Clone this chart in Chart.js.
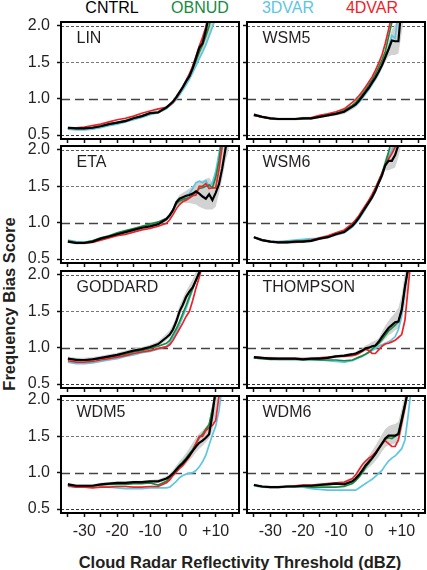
<!DOCTYPE html>
<html><head><meta charset="utf-8">
<script src="https://cdn.jsdelivr.net/npm/chart.js@4.4.1/dist/chart.umd.min.js"></script>
<style>
html,body{margin:0;padding:0;background:#fff;}
#wrap{position:relative;width:427px;height:570px;overflow:hidden;font-family:"Liberation Sans",Arial,Helvetica,sans-serif;color:#231f20;}
canvas{position:absolute;}
.t{position:absolute;white-space:nowrap;transform:translate(-50%,-50%);line-height:1;}
</style></head><body>
<div id="wrap">
  <div class="t" id="leg0" style="left:112px;top:8px;font-size:16px;"></div>
  <div class="t" id="leg1" style="left:200px;top:8px;font-size:16px;"></div>
  <div class="t" id="leg2" style="left:288px;top:8px;font-size:16px;"></div>
  <div class="t" id="leg3" style="left:372px;top:8px;font-size:16px;"></div>
  <div class="t" style="left:8.5px;top:304px;font-size:16.5px;font-weight:bold;transform:translate(-50%,-50%) rotate(-90deg);">Frequency Bias Score</div>
  <div class="t" style="left:240px;top:562px;font-size:16.5px;font-weight:bold;">Cloud Radar Reflectivity Threshold (dBZ)</div>
</div>
<script>
// ---------------- data ----------------
const thresholds = [-35,-32.5,-30,-27.5,-25,-22.5,-20,-17.5,-15,-12.5,-10,-7.5,-5,-4,-3,-2,-1,0,1,2,3,4,5,6,7,8,9,10,11,12,13,14];
const seriesNames = ['CNTRL','OBNUD','3DVAR','4DVAR'];
const panelNames = ['LIN','WSM5','ETA','WSM6','GODDARD','THOMPSON','WDM5','WDM6'];
const yTickValues = [0.5,1.0,1.5,2.0];
const xTickValues = [-35,-30,-25,-20,-15,-10,-5,0,5,10,15];
const xLabelValues = [-30,-20,-10,0,10];

const LIN_CNTRL = [0.60,0.59,0.59,0.60,0.62,0.65,0.67,0.69,0.73,0.76,0.80,0.81,0.88,0.92,0.96,1.02,1.09,1.16,1.24,1.31,1.42,1.56,1.70,1.76,1.94,2.15];
const LIN_OBNUD = [0.59,0.59,0.59,0.60,0.62,0.65,0.67,0.70,0.73,0.76,0.80,0.82,0.87,0.91,0.95,1.01,1.08,1.15,1.23,1.31,1.41,1.52,1.64,1.74,1.86,2.00,2.20];
const LIN_3DVAR = [0.58,0.57,0.57,0.58,0.60,0.63,0.65,0.68,0.71,0.74,0.78,0.81,0.86,0.90,0.94,0.99,1.05,1.12,1.19,1.27,1.36,1.45,1.55,1.64,1.74,1.86,1.98,2.12];
const LIN_4DVAR = [0.59,0.60,0.61,0.63,0.65,0.68,0.71,0.73,0.76,0.80,0.83,0.86,0.88,0.91,0.95,1.01,1.08,1.16,1.25,1.34,1.45,1.58,1.72,1.84,1.98,2.20];
const LIN_LO = [0.58,0.57,0.57,0.58,0.60,0.63,0.65,0.67,0.71,0.74,0.78,0.79,0.85,0.89,0.93,0.98,1.04,1.11,1.18,1.25,1.34,1.44,1.54,1.63,1.74,1.86,1.98,2.12,2.30,2.50,2.50,2.50];
const LIN_HI = [0.62,0.61,0.61,0.62,0.64,0.67,0.69,0.72,0.75,0.78,0.82,0.84,0.90,0.94,0.99,1.05,1.12,1.20,1.28,1.36,1.48,1.62,1.76,1.88,2.05,2.30,2.50,2.50,2.50,2.50,2.50,2.50];

const WSM5_CNTRL = [0.78,0.75,0.73,0.72,0.72,0.72,0.73,0.73,0.75,0.77,0.79,0.82,0.89,0.92,0.97,1.03,1.09,1.15,1.22,1.29,1.37,1.46,1.57,1.68,1.80,1.79,1.79,2.30];
const WSM5_OBNUD = [0.77,0.75,0.73,0.72,0.72,0.72,0.73,0.73,0.76,0.78,0.80,0.84,0.91,0.95,1.00,1.06,1.12,1.19,1.26,1.34,1.43,1.53,1.65,1.85,2.05];
const WSM5_3DVAR = [0.77,0.75,0.73,0.72,0.72,0.72,0.72,0.73,0.75,0.77,0.79,0.82,0.88,0.91,0.95,1.01,1.07,1.13,1.20,1.27,1.35,1.45,1.56,1.69,1.87,1.83,2.20];
const WSM5_4DVAR = [0.77,0.75,0.73,0.72,0.72,0.72,0.73,0.74,0.77,0.79,0.82,0.86,0.95,0.99,1.04,1.10,1.16,1.23,1.30,1.39,1.49,1.60,1.76,1.95,2.15];
const WSM5_LO = [0.76,0.73,0.71,0.70,0.70,0.70,0.71,0.71,0.73,0.75,0.77,0.79,0.85,0.88,0.93,0.98,1.04,1.10,1.17,1.24,1.32,1.41,1.50,1.58,1.60,1.60,1.62,1.90,2.20,2.50,2.50,2.50];
const WSM5_HI = [0.80,0.77,0.75,0.74,0.74,0.74,0.75,0.75,0.77,0.79,0.81,0.84,0.91,0.95,1.00,1.06,1.12,1.19,1.26,1.34,1.43,1.53,1.64,1.78,1.95,2.02,2.10,2.50,2.50,2.50,2.50,2.50];

const ETA_CNTRL = [0.74,0.72,0.72,0.74,0.78,0.81,0.84,0.87,0.90,0.93,0.95,0.98,1.05,1.10,1.17,1.28,1.33,1.35,1.37,1.38,1.40,1.43,1.40,1.36,1.33,1.39,1.31,1.41,1.53,1.75,2.02,2.30];
const ETA_OBNUD = [0.75,0.73,0.73,0.75,0.79,0.82,0.86,0.89,0.92,0.95,0.98,1.01,1.06,1.11,1.18,1.26,1.30,1.32,1.33,1.35,1.38,1.42,1.47,1.48,1.50,1.52,1.48,1.62,1.85,2.20];
const ETA_3DVAR = [0.76,0.74,0.73,0.75,0.78,0.81,0.84,0.87,0.90,0.93,0.96,0.99,1.04,1.09,1.16,1.25,1.30,1.32,1.35,1.40,1.47,1.55,1.57,1.55,1.58,1.50,1.55,1.70,1.95,2.20];
const ETA_4DVAR = [0.74,0.72,0.72,0.73,0.76,0.79,0.82,0.84,0.87,0.90,0.92,0.95,0.99,1.04,1.11,1.19,1.25,1.29,1.31,1.34,1.37,1.38,1.50,1.50,1.54,1.47,1.48,1.48,1.73,2.06];
const ETA_LO = [0.72,0.70,0.70,0.72,0.76,0.79,0.82,0.85,0.88,0.91,0.93,0.96,1.02,1.07,1.14,1.22,1.26,1.27,1.27,1.27,1.26,1.25,1.22,1.20,1.18,1.18,1.18,1.22,1.40,1.60,1.85,2.00];
const ETA_HI = [0.76,0.74,0.74,0.76,0.80,0.83,0.86,0.89,0.92,0.95,0.97,1.00,1.07,1.13,1.21,1.32,1.38,1.41,1.44,1.47,1.50,1.55,1.58,1.58,1.60,1.62,1.55,1.70,2.00,2.30,2.50,2.50];

const WSM6_CNTRL = [0.80,0.76,0.74,0.73,0.73,0.74,0.74,0.75,0.78,0.80,0.84,0.87,0.96,1.01,1.07,1.14,1.21,1.28,1.35,1.44,1.55,1.65,1.79,1.85,1.85,1.93,2.07];
const WSM6_OBNUD = [0.80,0.76,0.74,0.73,0.74,0.74,0.75,0.76,0.78,0.81,0.85,0.88,0.97,1.02,1.08,1.15,1.22,1.30,1.38,1.47,1.57,1.68,1.82,1.97,2.15];
const WSM6_3DVAR = [0.80,0.76,0.74,0.74,0.75,0.76,0.77,0.78,0.78,0.80,0.83,0.86,0.94,0.99,1.05,1.12,1.19,1.27,1.34,1.43,1.54,1.65,1.78,1.90,2.00,2.10];
const WSM6_4DVAR = [0.80,0.76,0.74,0.73,0.73,0.73,0.74,0.76,0.79,0.82,0.86,0.90,0.99,1.04,1.10,1.17,1.24,1.31,1.39,1.48,1.58,1.68,1.78,1.88,1.95,2.04,2.20];
const WSM6_LO = [0.78,0.74,0.72,0.71,0.71,0.72,0.72,0.73,0.76,0.78,0.82,0.85,0.93,0.98,1.04,1.10,1.17,1.24,1.31,1.40,1.50,1.60,1.72,1.72,1.74,1.76,1.90,2.10,2.30,2.50,2.50,2.50];
const WSM6_HI = [0.82,0.78,0.76,0.75,0.75,0.76,0.76,0.77,0.80,0.82,0.86,0.89,0.99,1.04,1.10,1.17,1.24,1.32,1.40,1.49,1.60,1.72,1.88,2.00,2.05,2.10,2.30,2.50,2.50,2.50,2.50,2.50];

const GODDARD_CNTRL = [0.85,0.83,0.83,0.84,0.86,0.88,0.90,0.93,0.96,0.98,1.01,1.05,1.14,1.18,1.25,1.36,1.50,1.59,1.70,1.77,1.83,1.93,2.03,2.20];
const GODDARD_OBNUD = [0.85,0.84,0.83,0.84,0.85,0.87,0.89,0.91,0.94,0.96,0.99,1.02,1.06,1.10,1.18,1.26,1.36,1.47,1.58,1.70,1.82,1.93,2.05];
const GODDARD_3DVAR = [0.80,0.78,0.78,0.79,0.81,0.83,0.85,0.88,0.90,0.93,0.95,0.98,1.02,1.06,1.14,1.22,1.32,1.43,1.54,1.67,1.80,1.92,2.05];
const GODDARD_4DVAR = [0.82,0.80,0.80,0.81,0.83,0.85,0.87,0.89,0.92,0.94,0.96,0.99,1.01,1.04,1.10,1.18,1.26,1.34,1.43,1.50,1.65,1.82,1.97,2.15];
const GODDARD_LO = [0.83,0.81,0.81,0.82,0.84,0.86,0.88,0.91,0.94,0.96,0.99,1.02,1.10,1.14,1.21,1.30,1.43,1.53,1.63,1.71,1.79,1.89,1.99,2.10,2.50,2.50,2.50,2.50,2.50,2.50,2.50,2.50];
const GODDARD_HI = [0.88,0.86,0.86,0.87,0.89,0.91,0.93,0.96,0.99,1.01,1.04,1.09,1.19,1.24,1.32,1.43,1.58,1.68,1.78,1.86,1.94,2.05,2.20,2.50,2.50,2.50,2.50,2.50,2.50,2.50,2.50,2.50];

const THOMPSON_CNTRL = [0.87,0.86,0.85,0.85,0.85,0.85,0.84,0.85,0.85,0.86,0.88,0.89,0.91,0.92,0.94,0.96,0.99,1.00,1.02,1.03,1.08,1.15,1.21,1.27,1.31,1.35,1.36,1.52,1.84,2.10];
const THOMPSON_OBNUD = [0.86,0.85,0.84,0.84,0.84,0.84,0.84,0.84,0.83,0.83,0.83,0.82,0.83,0.85,0.87,0.89,0.91,0.94,0.98,1.02,1.06,1.11,1.17,1.23,1.27,1.31,1.36,1.52,1.84,2.10];
const THOMPSON_3DVAR = [0.86,0.85,0.85,0.84,0.84,0.84,0.83,0.83,0.83,0.82,0.81,0.80,0.82,0.84,0.86,0.88,0.91,0.93,0.96,0.99,1.02,1.04,1.06,1.08,1.11,1.15,1.25,1.45,1.80,2.10];
const THOMPSON_4DVAR = [0.87,0.86,0.86,0.85,0.85,0.85,0.85,0.85,0.86,0.87,0.88,0.88,0.89,0.90,0.92,0.95,0.98,0.96,0.92,0.92,0.97,1.02,1.05,1.06,1.08,1.10,1.14,1.18,1.38,1.84,2.30];
const THOMPSON_LO = [0.85,0.84,0.83,0.83,0.83,0.83,0.82,0.83,0.83,0.84,0.86,0.87,0.89,0.90,0.91,0.93,0.95,0.96,0.97,0.98,1.02,1.07,1.12,1.17,1.20,1.24,1.26,1.36,1.60,1.90,2.30,2.50];
const THOMPSON_HI = [0.89,0.88,0.87,0.87,0.87,0.87,0.86,0.87,0.87,0.88,0.90,0.91,0.93,0.94,0.97,0.99,1.03,1.05,1.08,1.10,1.13,1.22,1.30,1.37,1.43,1.48,1.55,1.72,2.05,2.40,2.50,2.50];

const WDM5_CNTRL = [0.84,0.82,0.82,0.82,0.84,0.85,0.86,0.86,0.87,0.87,0.88,0.88,0.92,0.95,0.99,1.04,1.09,1.13,1.18,1.24,1.30,1.36,1.41,1.44,1.48,1.53,1.80,2.15];
const WDM5_OBNUD = [0.84,0.82,0.81,0.82,0.83,0.84,0.84,0.84,0.85,0.85,0.86,0.83,0.88,0.93,0.99,1.05,1.10,1.15,1.20,1.26,1.32,1.40,1.48,1.53,1.60,1.66,1.88,2.08];
const WDM5_3DVAR = [0.81,0.80,0.80,0.80,0.80,0.80,0.79,0.78,0.78,0.78,0.79,0.79,0.79,0.80,0.84,0.88,0.93,0.96,0.98,0.99,1.00,1.03,1.08,1.15,1.24,1.38,1.52,1.64,1.85,2.20];
const WDM5_4DVAR = [0.82,0.80,0.80,0.79,0.80,0.80,0.81,0.81,0.80,0.80,0.81,0.81,0.86,0.90,0.96,1.01,1.06,1.10,1.16,1.22,1.30,1.40,1.50,1.50,1.58,1.62,1.65,1.72,2.05,2.30];
const WDM5_LO = [0.82,0.80,0.80,0.80,0.82,0.83,0.84,0.84,0.85,0.85,0.86,0.86,0.89,0.92,0.96,1.00,1.04,1.07,1.12,1.17,1.22,1.28,1.33,1.37,1.42,1.47,1.58,1.80,2.10,2.50,2.50,2.50];
const WDM5_HI = [0.86,0.84,0.84,0.84,0.86,0.87,0.88,0.88,0.89,0.89,0.90,0.91,0.95,0.99,1.04,1.10,1.16,1.21,1.27,1.34,1.41,1.48,1.54,1.58,1.63,1.70,1.95,2.30,2.50,2.50,2.50,2.50];

const WDM6_CNTRL = [0.83,0.81,0.80,0.80,0.81,0.81,0.82,0.82,0.83,0.84,0.85,0.84,0.88,0.92,0.97,1.03,1.10,1.15,1.20,1.26,1.33,1.40,1.47,1.51,1.51,1.51,1.53,1.72,1.93,2.15];
const WDM6_OBNUD = [0.83,0.81,0.80,0.80,0.81,0.81,0.81,0.80,0.80,0.80,0.80,0.81,0.85,0.89,0.94,1.00,1.07,1.13,1.19,1.26,1.33,1.40,1.46,1.48,1.47,1.50,1.55,1.75,1.95,2.15];
const WDM6_3DVAR = [0.82,0.80,0.80,0.80,0.80,0.80,0.80,0.78,0.77,0.76,0.76,0.76,0.76,0.76,0.79,0.82,0.85,0.88,0.91,0.95,0.99,1.03,1.10,1.16,1.20,1.23,1.28,1.33,1.45,1.80,2.20];
const WDM6_4DVAR = [0.83,0.81,0.80,0.80,0.81,0.82,0.83,0.83,0.84,0.85,0.86,0.87,0.92,0.97,1.04,1.11,1.16,1.20,1.23,1.28,1.34,1.40,1.44,1.40,1.36,1.36,1.45,1.68,1.90,2.15];
const WDM6_LO = [0.81,0.79,0.78,0.78,0.79,0.79,0.80,0.80,0.81,0.82,0.83,0.82,0.85,0.88,0.92,0.97,1.03,1.07,1.11,1.16,1.22,1.29,1.35,1.38,1.39,1.40,1.42,1.58,1.80,2.05,2.30,2.50];
const WDM6_HI = [0.85,0.83,0.82,0.82,0.83,0.83,0.84,0.84,0.85,0.86,0.87,0.86,0.91,0.96,1.02,1.09,1.16,1.23,1.30,1.37,1.45,1.53,1.60,1.64,1.66,1.67,1.70,1.88,2.08,2.30,2.50,2.50];

// ---------------- presentation ----------------
const panelSeries = [
  [LIN_CNTRL, LIN_OBNUD, LIN_3DVAR, LIN_4DVAR, LIN_LO, LIN_HI],
  [WSM5_CNTRL, WSM5_OBNUD, WSM5_3DVAR, WSM5_4DVAR, WSM5_LO, WSM5_HI],
  [ETA_CNTRL, ETA_OBNUD, ETA_3DVAR, ETA_4DVAR, ETA_LO, ETA_HI],
  [WSM6_CNTRL, WSM6_OBNUD, WSM6_3DVAR, WSM6_4DVAR, WSM6_LO, WSM6_HI],
  [GODDARD_CNTRL, GODDARD_OBNUD, GODDARD_3DVAR, GODDARD_4DVAR, GODDARD_LO, GODDARD_HI],
  [THOMPSON_CNTRL, THOMPSON_OBNUD, THOMPSON_3DVAR, THOMPSON_4DVAR, THOMPSON_LO, THOMPSON_HI],
  [WDM5_CNTRL, WDM5_OBNUD, WDM5_3DVAR, WDM5_4DVAR, WDM5_LO, WDM5_HI],
  [WDM6_CNTRL, WDM6_OBNUD, WDM6_3DVAR, WDM6_4DVAR, WDM6_LO, WDM6_HI]
];
const colors = {CNTRL:'#000000', OBNUD:'#178a3e', '3DVAR':'#5ec6e0', '4DVAR':'#ec2228', band:'#d2d2d2'};
const refStyle = {
  0.5: {dash:[3,2], color:'#333', width:1},
  1.0: {dash:[9,5], color:'#444', width:1.3},
  1.5: {dash:[3,2], color:'#777', width:1},
  2.0: {dash:[3,2], color:'#555', width:1}
};
const FONT = "'Liberation Sans', Arial, Helvetica, sans-serif";
Chart.defaults.font.family = FONT;
Chart.defaults.font.size = 16;
Chart.defaults.color = '#231f20';

seriesNames.forEach((n,i)=>{
  const el = document.getElementById('leg'+i);
  el.textContent = n; el.style.color = colors[n];
});

function pts(arr){ return thresholds.map((x,i)=>({x:x, y:(i<arr.length? arr[i] : null)})); }
function lineDs(arr,color,w){ return {data:pts(arr), borderColor:color, borderWidth:w, pointRadius:0, fill:false, tension:0, clip:0, spanGaps:false}; }

const decor = {
  id:'decor',
  beforeDatasetsDraw(chart){
    const {ctx, chartArea:a} = chart; const y = chart.scales.y;
    yTickValues.forEach(v=>{
      const s = refStyle[v]; const py = Math.round(y.getPixelForValue(v))+0.5;
      ctx.save(); ctx.beginPath(); ctx.setLineDash(s.dash); ctx.strokeStyle=s.color; ctx.lineWidth=s.width;
      ctx.moveTo(a.left,py); ctx.lineTo(a.right,py); ctx.stroke(); ctx.restore();
    });
  },
  afterDatasetsDraw(chart){
    const {ctx, chartArea:a} = chart;
    ctx.save(); ctx.strokeStyle='#000'; ctx.lineWidth=2; ctx.setLineDash([]);
    ctx.strokeRect(a.left, a.top, a.right-a.left, a.bottom-a.top);
    ctx.fillStyle='#231f20'; ctx.font='16px '+FONT; ctx.textBaseline='alphabetic'; ctx.textAlign='left';
    ctx.fillText(chart.options.plugins.decor.label, a.left+15.5, a.top+21);
    ctx.restore();
  }
};

const wrap = document.getElementById('wrap');
const rowTops = [22,146,271,396];
const colLefts = [0,186];
panelNames.forEach((name,i)=>{
  const col = i%2, row = Math.floor(i/2);
  const xh = row===3 ? 36 : 6;
  const W = 242, H = 12+117+xh;
  const c = document.createElement('canvas');
  c.width = W; c.height = H;
  c.style.left = colLefts[col]+'px'; c.style.top = (rowTops[row]-12)+'px';
  c.style.width = W+'px'; c.style.height = H+'px';
  wrap.appendChild(c);
  const s = panelSeries[i];
  const datasets = [
    lineDs(s[0], colors.CNTRL, 2.2),
    lineDs(s[3], colors['4DVAR'], 1.7),
    lineDs(s[1], colors.OBNUD, 1.7),
    lineDs(s[2], colors['3DVAR'], 1.7),
    Object.assign(lineDs(s[5], 'rgba(0,0,0,0)', 0), {fill:'+1', backgroundColor:colors.band}),
    lineDs(s[4], 'rgba(0,0,0,0)', 0)
  ];
  new Chart(c, {
    type:'line',
    data:{datasets},
    plugins:[decor],
    options:{
      responsive:false, animation:false, events:[],
      layout:{padding:{top:12,left:0,right:3,bottom:0}},
      plugins:{legend:{display:false}, tooltip:{enabled:false}, decor:{label:name}},
      scales:{
        x:{type:'linear', min:-37.1, max:17.1,
          afterBuildTicks(sc){ sc.ticks = xTickValues.map(v=>({value:v})); },
          afterFit(sc){ sc.height = xh; sc.paddingLeft=0; sc.paddingRight=0; },
          ticks:{autoSkip:false, maxRotation:0, padding:5, color:'#231f20', font:{size:16},
            callback(v){ return (row===3 && xLabelValues.includes(v)) ? (v>0?'+'+v:String(v)) : ''; }},
          grid:{drawOnChartArea:false, drawTicks:true, tickLength:4, tickColor:'#111', tickWidth:1.5},
          border:{display:false}
        },
        y:{type:'linear', min:0.445, max:2.055,
          afterBuildTicks(sc){ sc.ticks = yTickValues.map(v=>({value:v})); },
          afterFit(sc){ sc.width = 61; sc.paddingTop=0; sc.paddingBottom=0; },
          ticks:{padding:7, color:'#231f20', font:{size:16},
            callback(v){ return col===0 ? v.toFixed(1) : ''; }},
          grid:{drawOnChartArea:false, drawTicks:true, tickLength:4, tickColor:'#111', tickWidth:1.5},
          border:{display:false}
        }
      }
    }
  });
});
</script>
</body></html>
